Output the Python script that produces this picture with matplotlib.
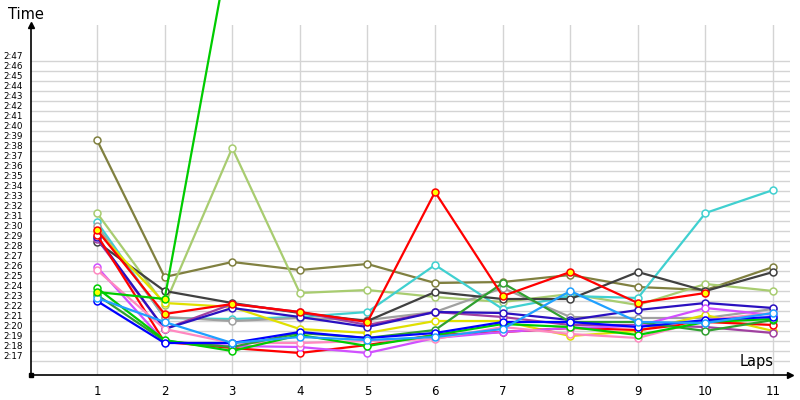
import matplotlib
matplotlib.use("Agg")
import matplotlib.pyplot as plt

# lap times in seconds, one list per driver (laps start at 1)
laps = list(range(1, 12))
olive = [159.1, 145.4, 146.9, 146.1, 146.7, 144.8, 144.9, 145.6, 144.4, 144.1, 146.4]
light_green = [151.8, 142.6, 158.3, 143.8, 144.1, 143.4, 142.9, 143.7, 142.6, 144.7, 144.0]
cyan = [150.9, 141.3, 141.2, 141.4, 141.9, 146.6, 142.2, 143.5, 143.3, 151.8, 154.1]
gray = [150.5, 141.4, 141.0, 141.3, 141.1, 141.9, 144.3, 141.4, 141.3, 141.3, 142.2]
dark_gray = [148.9, 144.0, 142.8, 141.8, 141.0, 143.9, 143.2, 143.2, 145.9, 144.0, 145.9]
yellow = [150.0, 142.8, 142.4, 140.2, 139.8, 141.0, 141.0, 139.5, 140.0, 141.6, 140.0]
purple = [149.2, 140.2, 142.7, 141.9, 140.6, 141.9, 141.4, 140.6, 140.6, 140.4, 139.8]
blue_violet = [149.4, 140.2, 142.3, 141.4, 140.4, 141.9, 141.8, 141.1, 142.1, 142.8, 142.3]
red_white = [149.6, 138.9, 138.3, 137.8, 138.6, 139.6, 139.9, 140.3, 140.1, 140.9, 140.6]
magenta = [146.4, 138.9, 138.5, 138.4, 137.8, 139.3, 139.9, 140.3, 140.5, 142.3, 141.6]
pink = [146.1, 140.2, 138.8, 138.8, 139.0, 139.2, 140.4, 139.7, 139.3, 141.1, 141.8]
forest = [143.6, 139.0, 138.4, 139.8, 139.3, 140.1, 144.8, 140.9, 140.9, 140.0, 141.1]
green = [144.3, 139.1, 138.0, 139.6, 138.5, 139.6, 140.7, 140.4, 139.6, 140.9, 141.2]
blue = [143.0, 138.8, 138.8, 139.9, 139.3, 139.8, 140.9, 140.9, 140.4, 141.1, 141.4]
dodger = [143.3, 140.9, 138.8, 139.4, 139.1, 139.4, 140.2, 144.0, 140.9, 140.8, 141.8]
red_yel = [150.1, 141.7, 142.7, 141.9, 140.9, 153.9, 143.5, 145.9, 142.8, 143.8]
green_yel = [143.9, 143.2, 180.0]

grid_times = list(range(137, 168))

series = [
    (olive, "#808040", "white"),
    (light_green, "#a8cc70", "white"),
    (cyan, "#40d0d0", "white"),
    (gray, "#a0a0a0", "white"),
    (dark_gray, "#404040", "white"),
    (yellow, "#e0e000", "white"),
    (purple, "#a040a0", "white"),
    (blue_violet, "#2a10c0", "white"),
    (red_white, "#ff0000", "white"),
    (magenta, "#d050ff", "white"),
    (pink, "#ff88c0", "white"),
    (forest, "#30a030", "white"),
    (green, "#00cc00", "white"),
    (blue, "#0000ff", "white"),
    (dodger, "#20a0ff", "white"),
    (red_yel, "#ff0000", "#ffff00"),
]

fig = plt.figure(figsize=(8, 4), dpi=100)
ax = fig.add_axes([31 / 800, 25 / 400, 759 / 800, 350 / 400])
ax.set_xlim(0.024, 11.25)
ax.set_ylim(135.6, 170.6)

# grid: horizontal lines only for labelled times, vertical at every lap
for t in grid_times:
    ax.axhline(t, color="#d4d4d4", lw=1, zorder=0)
for lap in laps:
    ax.axvline(lap, color="#d4d4d4", lw=1, zorder=0)

for vals, col, face in series:
    ax.plot(laps[:len(vals)], vals, color=col, lw=1.6, marker="o", ms=5,
            mfc=face, mec=col, mew=1.1, zorder=3)

# the one that flies off the top is drawn past the axes
ax.plot(laps[:len(green_yel)], green_yel, color="#00cc00", lw=1.6, marker="o", ms=5,
        mfc="#ffff00", mec="#00cc00", mew=1.1, zorder=3, clip_on=False)

for s in ["top", "right"]:
    ax.spines[s].set_visible(False)
ax.spines["left"].set_linewidth(1.2)
ax.spines["bottom"].set_linewidth(1.2)
ax.plot(0, 1, "^k", ms=5, transform=ax.transAxes, clip_on=False, zorder=5)
ax.plot(1, 0, ">k", ms=5, transform=ax.transAxes, clip_on=False, zorder=5)
ax.plot(0, 0, "sk", ms=3, transform=ax.transAxes, clip_on=False, zorder=5)

ax.set_xticks(laps)
ax.set_xticklabels([str(l) for l in laps], fontsize=8.5)
ax.set_yticks(grid_times)
ax.set_yticklabels([f"{t // 60}:{t % 60:02d}" for t in grid_times], fontsize=6.3)
for lbl in ax.get_yticklabels():
    lbl.set_va("bottom")
ax.tick_params(axis="both", length=0)
ax.tick_params(axis="y", pad=6)
ax.tick_params(axis="x", pad=7)

fig.text(8 / 800, 1 - 7 / 400, "Time", ha="left", va="top", fontsize=10.5)
fig.text(774 / 800, 31 / 400, "Laps", ha="right", va="bottom", fontsize=10.5)

fig.savefig("out.png", dpi=100)
